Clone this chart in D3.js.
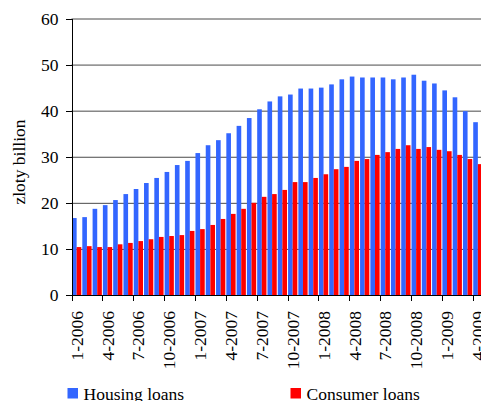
<!DOCTYPE html>
<html>
<head>
<meta charset="utf-8">
<script src="https://cdn.jsdelivr.net/npm/d3@7"></script>
<style>
  body { margin: 0; background: #fff; }
  svg { display: block; }
  svg text { font-family: "Liberation Serif", "Times New Roman", Times, serif; font-size: 17.5px; fill: #000; }
  .grid line { stroke: #4a4a4a; stroke-width: 1; }
  .grid .domain { display: none; }
  .axis path, .axis line { stroke: #000; shape-rendering: crispEdges; }
</style>
</head>
<body>
<svg id="chart" width="481" height="401"></svg>
<script>
const months = [
  '1-2006', '2-2006', '3-2006', '4-2006', '5-2006', '6-2006', '7-2006', '8-2006', '9-2006', '10-2006', '11-2006', '12-2006',
  '1-2007', '2-2007', '3-2007', '4-2007', '5-2007', '6-2007', '7-2007', '8-2007', '9-2007', '10-2007', '11-2007', '12-2007',
  '1-2008', '2-2008', '3-2008', '4-2008', '5-2008', '6-2008', '7-2008', '8-2008', '9-2008', '10-2008', '11-2008', '12-2008',
  '1-2009', '2-2009', '3-2009', '4-2009',
];
const housingLoans = [
  16.7, 16.9, 18.7, 19.5, 20.6, 21.9, 23.0, 24.3, 25.4, 26.7, 28.2, 29.1,
  30.8, 32.5, 33.6, 35.1, 36.7, 38.4, 40.3, 42.0, 43.1, 43.5, 44.8, 44.8,
  45.0, 45.7, 46.8, 47.4, 47.2, 47.2, 47.2, 46.8, 47.2, 47.8, 46.5, 45.9,
  44.4, 42.9, 39.9, 37.5,
];
const consumerLoans = [
  10.4, 10.6, 10.4, 10.4, 11.0, 11.3, 11.7, 12.1, 12.6, 12.8, 13.0, 13.9,
  14.3, 15.2, 16.5, 17.6, 18.7, 20.0, 21.3, 21.9, 22.8, 24.5, 24.5, 25.4,
  26.2, 27.3, 27.8, 29.1, 29.5, 30.4, 31.0, 31.7, 32.5, 31.7, 32.1, 31.5,
  31.2, 30.4, 29.5, 28.4,
];
const yTicks = [0, 10, 20, 30, 40, 50, 60];
const labelEvery = 3;
const series = [
  { key: 'housing', label: 'Housing loans', color: '#3366ff', values: housingLoans },
  { key: 'consumer', label: 'Consumer loans', color: '#ff0000', values: consumerLoans },
];

const svg = d3.select('#chart');
const margin = { top: 18.5, left: 71.5, bottom: 295 };
const plotRight = 483;

const y = d3.scaleLinear()
  .domain([0, 60])
  .range([margin.bottom, margin.top]);

const x0 = d3.scaleBand()
  .domain(months)
  .range([margin.left, plotRight])
  .paddingInner(0.1)
  .paddingOuter(0.05);

const x1 = d3.scaleBand()
  .domain(series.map(s => s.key))
  .range([0, x0.bandwidth()]);

// Category boundary positions for the tick marks
const xEdge = d3.scaleLinear()
  .domain([0, months.length])
  .range([margin.left, plotRight]);

// Horizontal gridlines
svg.append('g')
  .attr('class', 'grid')
  .attr('transform', `translate(${margin.left},0)`)
  .call(d3.axisRight(y).tickValues(yTicks).tickSize(plotRight - margin.left).tickFormat(''));

// Bars
const groups = svg.append('g')
  .selectAll('g')
  .data(months.map((m, i) => ({ month: m, i })))
  .join('g')
  .attr('transform', d => `translate(${x0(d.month)},0)`);

groups.selectAll('rect')
  .data(d => series.map(s => ({ key: s.key, color: s.color, value: s.values[d.i] })))
  .join('rect')
  .attr('x', d => x1(d.key))
  .attr('width', x1.bandwidth())
  .attr('y', d => y(d.value))
  .attr('height', d => y(0) - y(d.value))
  .attr('fill', d => d.color);

// Y axis
svg.append('g')
  .attr('class', 'axis')
  .attr('transform', `translate(${margin.left},0)`)
  .call(d3.axisLeft(y).tickValues(yTicks).tickSize(6).tickSizeOuter(0).tickPadding(7))
  .attr('font-family', null)
  .attr('font-size', null);

// X axis line and tick marks every 3 months
svg.append('g')
  .attr('class', 'axis')
  .attr('transform', `translate(0,${margin.bottom})`)
  .call(d3.axisBottom(xEdge)
    .tickValues(d3.range(0, months.length, labelEvery))
    .tickSize(6)
    .tickSizeOuter(0)
    .tickFormat(''));

// X labels, rotated
const xLabels = svg.append('g')
  .attr('transform', `translate(0,${margin.bottom})`)
  .call(d3.axisBottom(x0)
    .tickValues(months.filter((m, i) => i % labelEvery === 0))
    .tickSize(0))
  .attr('font-family', null)
  .attr('font-size', null);
xLabels.select('.domain').remove();
xLabels.selectAll('text')
  .attr('transform', 'rotate(-90)')
  .attr('text-anchor', 'end')
  .attr('x', -16)
  .attr('y', 0)
  .attr('dy', '0.35em');

// Y axis title
svg.append('text')
  .attr('transform', 'translate(24.5,162) rotate(-90)')
  .attr('text-anchor', 'middle')
  .text('zloty billion');

// Legend
const legendPos = [67.5, 290.5];
const legend = svg.append('g')
  .selectAll('g')
  .data(series)
  .join('g')
  .attr('transform', (d, i) => `translate(${legendPos[i]},388)`);
legend.append('rect')
  .attr('width', 10.5)
  .attr('height', 10.5)
  .attr('fill', d => d.color);
legend.append('text')
  .attr('x', 16)
  .attr('y', 11.5)
  .text(d => d.label);
</script>
</body>
</html>
